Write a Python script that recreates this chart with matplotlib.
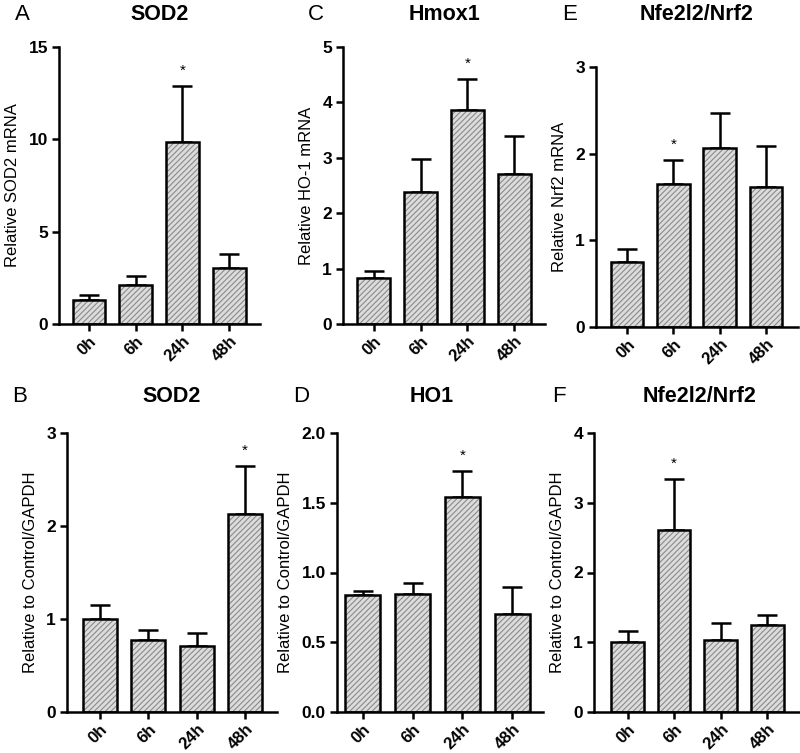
import matplotlib
matplotlib.use("Agg")
import matplotlib.pyplot as plt

plt.rcParams['font.family'] = ['Liberation Sans', 'DejaVu Sans']
plt.rcParams['hatch.linewidth'] = 0.8

times = ['0h', '6h', '24h', '48h']

sod2_mrna = [1.3, 2.1, 9.87, 3.05]
sod2_mrna_err = [0.27, 0.5, 3.03, 0.75]
hmox1_mrna = [0.83, 2.39, 3.87, 2.71]
hmox1_mrna_err = [0.13, 0.59, 0.55, 0.68]
nrf2_mrna = [0.75, 1.65, 2.06, 1.61]
nrf2_mrna_err = [0.15, 0.28, 0.41, 0.48]
sod2_prot = [1.0, 0.77, 0.71, 2.13]
sod2_prot_err = [0.15, 0.11, 0.14, 0.51]
ho1_prot = [0.836, 0.843, 1.54, 0.705]
ho1_prot_err = [0.03, 0.08, 0.185, 0.19]
nrf2_prot = [1.0, 2.61, 1.03, 1.25]
nrf2_prot_err = [0.16, 0.73, 0.24, 0.14]

panels = [
    # letter, title, ylabel, values, errs, star index, yticks, tick format
    ('A', 'SOD2', 'Relative SOD2 mRNA', sod2_mrna, sod2_mrna_err, 2, [0, 5, 10, 15], '{:.0f}'),
    ('C', 'Hmox1', 'Relative HO-1 mRNA', hmox1_mrna, hmox1_mrna_err, 2, [0, 1, 2, 3, 4, 5], '{:.0f}'),
    ('E', 'Nfe2l2/Nrf2', 'Relative Nrf2 mRNA', nrf2_mrna, nrf2_mrna_err, 1, [0, 1, 2, 3], '{:.0f}'),
    ('B', 'SOD2', 'Relative to Control/GAPDH', sod2_prot, sod2_prot_err, 3, [0, 1, 2, 3], '{:.0f}'),
    ('D', 'HO1', 'Relative to Control/GAPDH', ho1_prot, ho1_prot_err, 2, [0, 0.5, 1.0, 1.5, 2.0], '{:.1f}'),
    ('F', 'Nfe2l2/Nrf2', 'Relative to Control/GAPDH', nrf2_prot, nrf2_prot_err, 1, [0, 1, 2, 3, 4], '{:.0f}'),
]

W, H = 800, 753
# axes boxes in pixels: left, right, bottom, top, xlim
boxes = [
    (59, 260, 324, 47, (-0.64, 3.66)),
    (343, 545, 324, 47, (-0.66, 3.66)),
    (596, 798, 327, 67, (-0.67, 3.69)),
    (67, 277, 712, 433, (-0.68, 3.66)),
    (337, 543, 712, 433, (-0.52, 3.62)),
    (594, 799, 712, 433, (-0.72, 3.68)),
]
letter_pos = [(15, 15), (308, 14), (562, 15), (12, 397), (293, 397), (552, 397)]
title_x = [160, 444, 697, 172, 432, 700]

fig = plt.figure(figsize=(8, 7.53), dpi=100)

for p, b, lp, tx in zip(panels, boxes, letter_pos, title_x):
    letter, title, ylabel, vals, errs, star, yticks, fmt = p
    l, r, bot, top, xlim = b
    ax = fig.add_axes([l / W, 1 - bot / H, (r - l) / W, (bot - top) / H])
    x = range(len(times))
    ax.bar(x, vals, width=0.7, color='#dcdcdc', edgecolor='#8a8a8a', hatch='//////', linewidth=0, zorder=2)
    ax.bar(x, vals, width=0.7, color='none', edgecolor='black', linewidth=1.8, zorder=3)
    ax.errorbar(x, vals, yerr=[[0] * len(vals), errs], fmt='none', ecolor='black',
                elinewidth=1.8, capsize=7, capthick=1.8, zorder=1)
    ax.annotate('*', (star, vals[star] + errs[star]), xytext=(0, 6), textcoords='offset points',
                ha='center', va='bottom', fontsize=11)
    ax.set_xlim(*xlim)
    ax.set_ylim(yticks[0], yticks[-1])
    ax.set_yticks(yticks)
    ax.set_yticklabels([fmt.format(t) for t in yticks], fontweight='bold', fontsize=12.5)
    ax.set_xticks(list(x))
    ax.set_xticklabels(times, rotation=45, ha='right', rotation_mode='anchor', fontweight='bold', fontsize=12)
    ax.set_ylabel(ylabel, fontsize=12, labelpad=6)
    for s in ['top', 'right']:
        ax.spines[s].set_visible(False)
    for s in ['left', 'bottom']:
        ax.spines[s].set_linewidth(1.8)
    ax.tick_params(width=1.8, length=5, pad=3)
    ax.tick_params(axis='x', pad=2)
    fig.text(lp[0] / W, 1 - lp[1] / H, letter, fontsize=16, ha='left', va='center')
    fig.text(tx / W, 1 - lp[1] / H, title, fontsize=15.5, fontweight='bold', ha='center', va='center')

fig.savefig('out.png', dpi=100)
